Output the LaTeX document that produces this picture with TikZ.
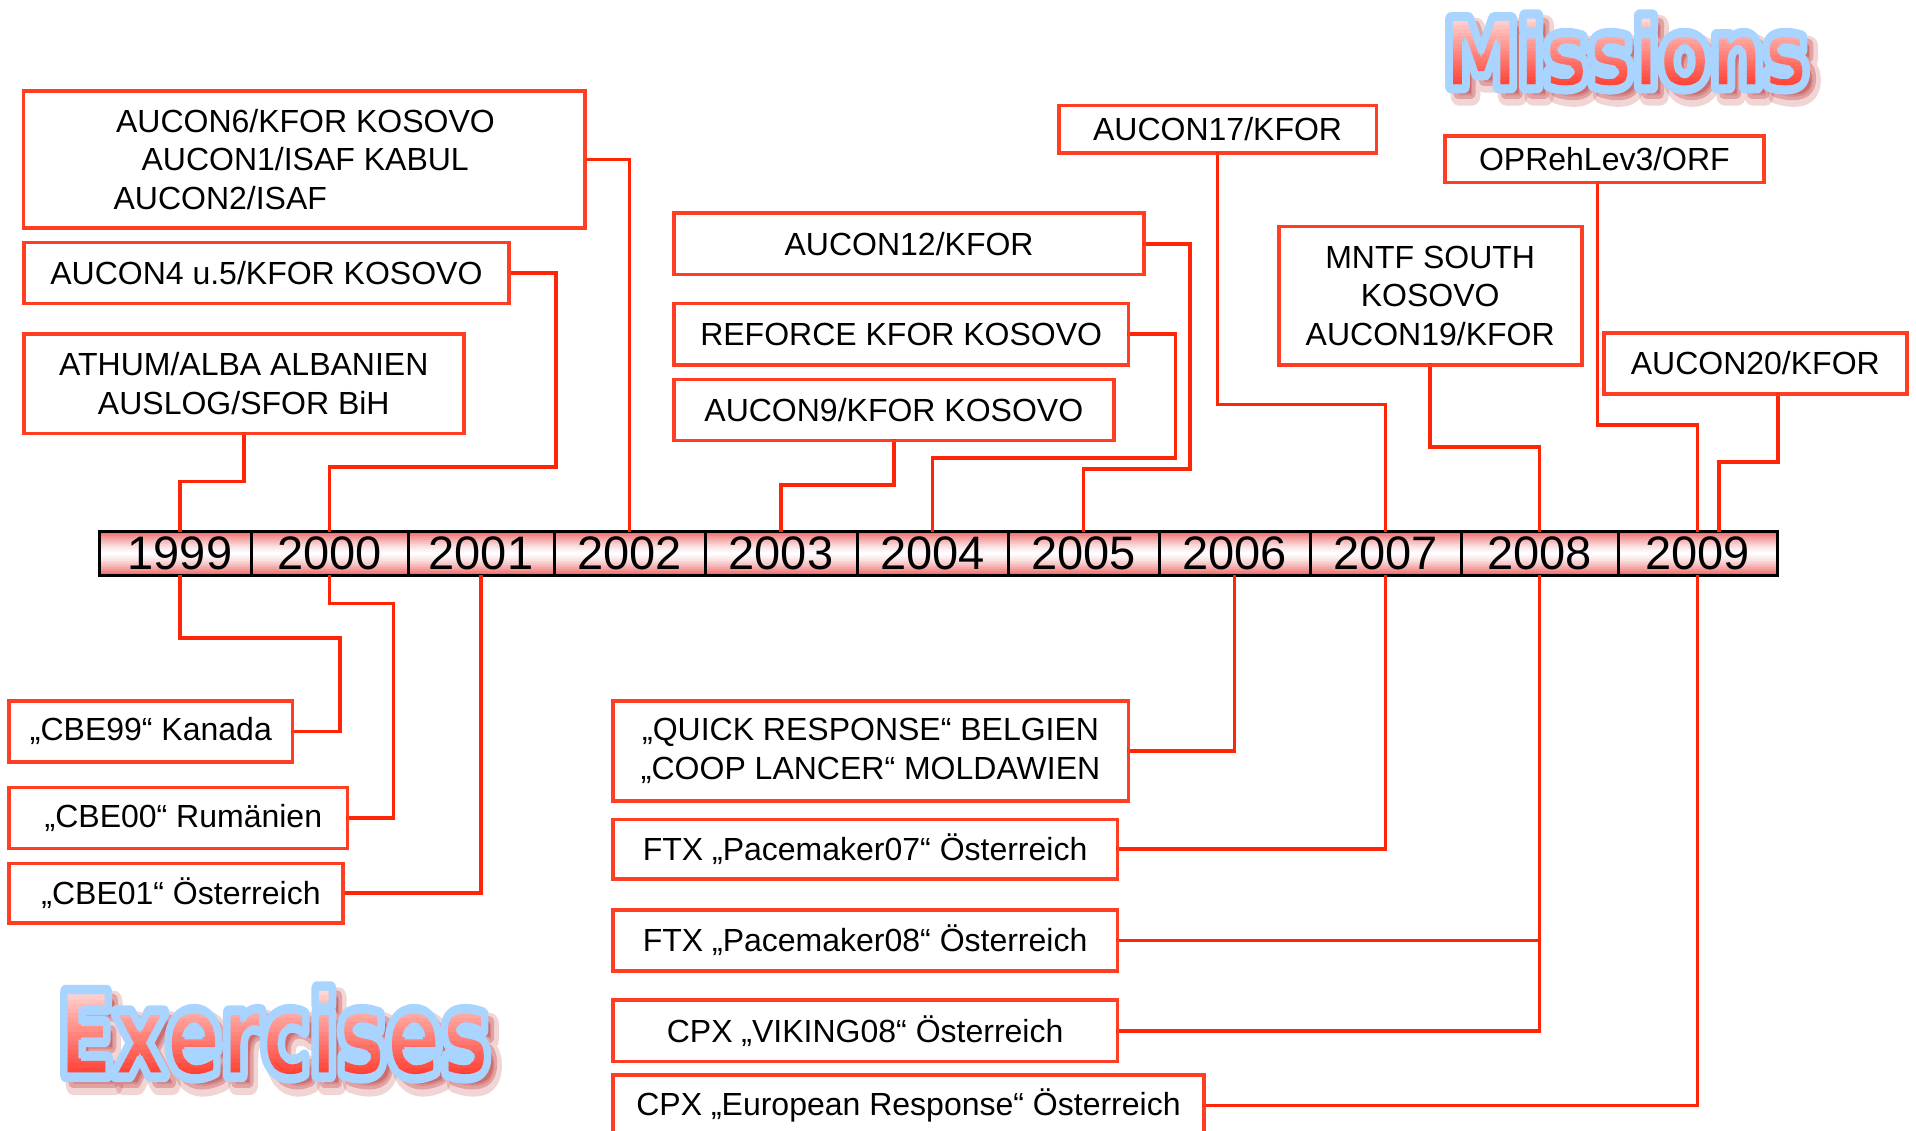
\documentclass[tikz,border=0pt]{standalone}
\usepackage{fontspec}
\setmainfont{Liberation Sans}
\newfontfamily\titlefont{DejaVu Sans}
\usetikzlibrary{calc}
\definecolor{linered}{RGB}{255,38,8}
\definecolor{boxred}{RGB}{255,62,36}
\definecolor{outlineblue}{RGB}{168,212,255}
\definecolor{shadowred}{RGB}{185,45,45}
\definecolor{cellred}{RGB}{242,80,80}
\newcommand{\strk}[2]{\special{pdf:literal direct q 2 Tr #1 w 1 j}#2\special{pdf:literal direct Q}}
\newsavebox\tbox
% word clipped by its own (slightly thickened) glyphs and filled with a white-to-red gradient
\newcommand{\gradword}[3]{%
  \sbox\tbox{\titlefont\bfseries #1}%
  \pgfmathsetmacro\W{\wd\tbox}%
  \pgfmathsetmacro\H{\ht\tbox}%
  \pgfmathsetmacro\xx{-\W-2}%
  \pgfmathsetmacro\ww{\W+4}%
  \special{pdf:literal q 7 Tr}%
  \smash{\rlap{\kern-#2\usebox\tbox}}\smash{\rlap{\kern#2\usebox\tbox}}%
  \smash{\rlap{\raise#3\hbox{\usebox\tbox}}}\smash{\rlap{\lower#3\hbox{\usebox\tbox}}}%
  \usebox\tbox\special{pdf:literal 0 Tr}%
  \foreach \k in {0,...,23}{%
    \pgfmathsetmacro\pp{(1-(\k+0.5)/24)^0.85}%
    \pgfmathsetmacro\gg{1-\pp*(1-45/255)}%
    \pgfmathsetmacro\bb{1-\pp*(1-30/255)}%
    \pgfmathsetmacro\yy{-1+\k*(\H+2)/24}%
    \pgfmathsetmacro\hh{(\H+2)/24+0.05}%
    \special{pdf:literal 1 \gg\space \bb\space rg \xx\space \yy\space \ww\space \hh\space re f}%
  }%
  \special{pdf:literal Q}}
\newcommand{\missionstext}{\resizebox{364pt}{70pt}{\titlefont\bfseries Missions}}
\newcommand{\exercisestext}{\resizebox{432pt}{86pt}{\titlefont\bfseries Exercises}}
\begin{document}
\begin{tikzpicture}[x=1pt, y=-1pt,
  conn/.style={draw=linered, line width=3.6pt, line cap=rect},
  box/.style={draw=boxred, line width=2.4pt, fill=white, inner sep=0pt,
    font=\fontsize{32}{38.5}\selectfont, align=center},
  cell/.style={draw=black, line width=3pt, inner sep=0pt, minimum height=44pt,
    font=\fontsize{47}{47}\selectfont}]
\useasboundingbox (0,0) rectangle (1916,1131);
\clip (0,0) rectangle (1916,1131);
\fill[white] (0,0) rectangle (1916,1131);

% ---------- titles ----------
\node[text=shadowred, opacity=0.20, inner sep=0pt] (mshadow) at (1634,61) {\strk{2.2}{\missionstext}};
\node[text=shadowred, opacity=0.30, inner sep=0pt] (mshadowcore) at (1633,59) {\strk{1.2}{\missionstext}};
\node[text=outlineblue, inner sep=0pt] (moutline) at (1626,52) {\strk{1.5}{\missionstext}};
\node[inner sep=0pt] (mfill) at (1626,52) {\resizebox{364pt}{70pt}{\gradword{Missions}{0.3pt}{0.25pt}}};

\node[text=shadowred, opacity=0.20, inner sep=0pt] (eshadow) at (282,1042) {\strk{1.9}{\exercisestext}};
\node[text=shadowred, opacity=0.30, inner sep=0pt] (eshadowcore) at (281,1040) {\strk{1.0}{\exercisestext}};
\node[text=outlineblue, inner sep=0pt] (eoutline) at (274,1032.5) {\strk{1.3}{\exercisestext}};
\node[inner sep=0pt] (efill) at (274,1032.5) {\resizebox{432pt}{86pt}{\gradword{Exercises}{0.28pt}{0.2pt}}};

% ---------- timeline bar ----------
\foreach \k in {0,...,23}{
  \pgfmathsetmacro\t{abs(((\k+0.5)/24)*2-1)}
  \pgfmathsetmacro\p{100*(\t^1.4)}
  \fill[cellred!\p!white] (99,{530+\k*47/24}) rectangle (1777,{530+(\k+1)*47/24+0.4});
}
\node[cell, minimum width=152] (c1999) at (175,553.5) {\hspace*{10pt}1999};
\foreach \yr/\cx/\w in {2000/329.5/157,2001/481/146,2002/629.5/151,
  2003/781/152,2004/932.5/151,2005/1083.5/151,2006/1234.5/151,2007/1385.5/151,
  2008/1539.5/157,2009/1697.5/159}{
  \node[cell, minimum width=\w] (c\yr) at (\cx,553.5) {\yr};
}
\coordinate (t1999) at ([xshift=5pt]c1999.north);
\coordinate (b1999) at ([xshift=5pt]c1999.south);
\coordinate (t2009b) at ([xshift=21.7pt]c2009.north);

% ---------- mission boxes ----------
\node[box, align=left, minimum width=560, minimum height=136] (A) at (304.2,159.5)
  {\hspace*{2.5pt}AUCON6/KFOR KOSOVO\\\hspace*{28pt}AUCON1/ISAF KABUL\\AUCON2/ISAF};
\node[box, minimum width=484, minimum height=60] (B) at (266.4,273.1) {AUCON4 u.5/KFOR KOSOVO};
\node[box, minimum width=439, minimum height=98] (C) at (243.8,383.7) {ATHUM/ALBA ALBANIEN\\AUSLOG/SFOR BiH};
\node[box, minimum width=469, minimum height=60] (D) at (909.1,243.8) {AUCON12/KFOR};
\node[box, minimum width=453, minimum height=60] (E) at (901.2,334.2) {REFORCE KFOR KOSOVO};
\node[box, minimum width=439, minimum height=60] (F) at (893.8,410) {AUCON9/KFOR KOSOVO};
\node[box, minimum width=316.5, minimum height=46.4] (G) at (1217.6,129.5) {AUCON17/KFOR};
\node[box, minimum width=317.7, minimum height=45.2] (H) at (1604.4,159.5) {OPRehLev3/ORF};
\node[box, minimum width=301.8, minimum height=136.8] (I) at (1430.2,295.7) {MNTF SOUTH\\KOSOVO\\AUCON19/KFOR};
\node[box, minimum width=301.8, minimum height=60] (J) at (1755.3,363.5) {AUCON20/KFOR};
\coordinate (Hs) at ([xshift=-7pt]H.south);
\coordinate (Js) at ([xshift=22.6pt]J.south);

% ---------- exercise boxes ----------
\node[box, minimum width=282.2, minimum height=59.8] (K) at (150.9,731.3) {„CBE99“ Kanada};
\node[box, minimum width=337.2, minimum height=60] (L) at (178.4,818) {\hspace*{10pt}„CBE00“ Rumänien};
\node[box, minimum width=332.3, minimum height=58.6] (M) at (176,893.2) {\hspace*{10pt}„CBE01“ Österreich};
\node[box, minimum width=514.4, minimum height=98.9] (N) at (870.6,750.9) {„QUICK RESPONSE“ BELGIEN\\„COOP LANCER“ MOLDAWIEN};
\node[box, minimum width=503.4, minimum height=58.6] (O) at (865.1,849.2) {FTX „Pacemaker07“ Österreich};
\node[box, minimum width=503.4, minimum height=60] (P) at (865.1,940.3) {FTX „Pacemaker08“ Österreich};
\node[box, minimum width=503.4, minimum height=60] (Q) at (865.1,1030.7) {CPX „VIKING08“ Österreich};
\node[box, minimum width=590.2, minimum height=60] (R) at (908.5,1105.3) {CPX „European Response“ Österreich};

% ---------- connectors (top) ----------
\draw[conn] (A.east) -| (c2002.north);
\draw[conn] (B.east) -| (556,466.8) -| (c2000.north);
\draw[conn] (C.south) -- (C.south |- 0,481.4) -| (t1999);
\draw[conn] (D.east) -| (1190.1,469.2) -| (c2005.north);
\draw[conn] (E.east) -| (1175.5,458.2) -| (c2004.north);
\draw[conn] (F.south) -- (F.south |- 0,485.1) -| (c2003.north);
\draw[conn] (G.south) -- (G.south |- 0,404.4) -| (c2007.north);
\draw[conn] (Hs) -- (Hs |- 0,425.2) -| (c2009.north);
\draw[conn] (I.south) -- (I.south |- 0,447.2) -| (c2008.north);
\draw[conn] (Js) -- (Js |- 0,461.9) -| (t2009b);

% ---------- connectors (bottom) ----------
\draw[conn] (b1999) |- (339.7,637.8) |- (K.east);
\draw[conn] (c2000.south) |- (393.5,603.6) |- (L.east);
\draw[conn] (c2001.south) |- (M.east);
\draw[conn] (c2006.south) |- (N.east);
\draw[conn] (c2007.south) |- (O.east);
\draw[conn] (c2008.south) |- (P.east);
\draw[conn] (c2008.south) |- (Q.east);
\draw[conn] (c2009.south) |- (R.east);

% box borders over connector ends
\foreach \n in {A,B,C,D,E,F,G,H,I,J,K,L,M,N,O,P,Q,R}{
  \draw[draw=boxred, line width=2.4pt] (\n.north west) rectangle (\n.south east);
}
\end{tikzpicture}
\end{document}
